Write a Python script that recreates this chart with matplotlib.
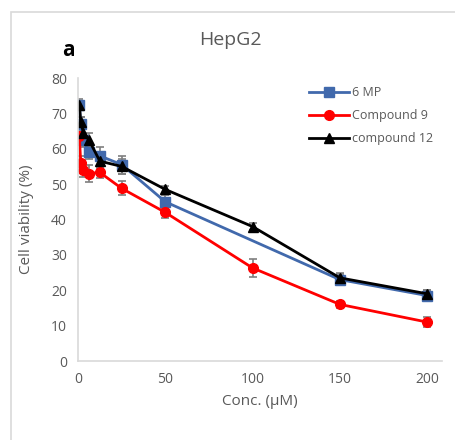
import numpy as np
import matplotlib
matplotlib.use('Agg')
import matplotlib.pyplot as plt
from matplotlib.patches import Rectangle
from matplotlib.lines import Line2D

plt.rcParams['font.family'] = ['Open Sans', 'DejaVu Sans']

conc = [0.78, 1.56, 3.125, 6.25, 12.5, 25, 50, 100, 150, 200]
conc_mp = [0.78, 1.56, 3.125, 6.25, 12.5, 25, 50, 150, 200]

mp6 = [72.5, 67, 62.5, 59, 58, 55.5, 45, 23, 18.5]
mp6_err = [1.5, 2, 2, 2, 2.5, 2.5, 2, 1.5, 1.5]
cmp9 = [63.5, 56, 54, 53, 53.3, 48.8, 42, 26.3, 16, 11]
cmp9_err = [1, 2, 2, 2.5, 1.5, 2, 1.5, 2.5, 1, 1.5]
cmp12 = [72.5, 67.5, 64.5, 62.5, 56.5, 55, 48.5, 38, 23.5, 19]
cmp12_err = [1, 1.5, 2, 2, 2, 2, 1, 1, 1.5, 1]

grey = '#595959'
fig = plt.figure(figsize=(4.55, 4.40), dpi=100)
fig.patches.append(Rectangle((11/455, -0.1), 1.2, 1.1 - 12/440, transform=fig.transFigure,
                             fill=False, edgecolor='#d9d9d9', lw=1.2))
ax = fig.add_axes([78/455, 1 - 361/440, 364/455, 283/440])

ebkw = dict(ecolor='#7f7f7f', elinewidth=1.2, capsize=3, capthick=1.2)
ax.errorbar(conc_mp, mp6, yerr=mp6_err, color='#4169ac', marker='s', ms=6.5, lw=2, **ebkw)
ax.errorbar(conc, cmp9, yerr=cmp9_err, color='#ff0000', marker='o', ms=7, lw=2, **ebkw)
ax.errorbar(conc, cmp12, yerr=cmp12_err, color='black', marker='^', ms=7, lw=2, **ebkw)

ax.set_xlim(0, 208.5)
ax.set_ylim(0, 80)
ax.set_xticks([0, 50, 100, 150, 200])
ax.set_yticks(np.arange(0, 81, 10))
ax.tick_params(length=0, labelsize=10, labelcolor=grey, pad=8)
for s in ['top', 'right']:
    ax.spines[s].set_visible(False)
for s in ['left', 'bottom']:
    ax.spines[s].set_color('#d9d9d9')
    ax.spines[s].set_linewidth(1.2)

ax.set_xlabel('Conc. (\u00b5M)', fontsize=11, color=grey, labelpad=5)
ax.set_ylabel('Cell viability (%)', fontsize=11, color=grey, labelpad=12)

fig.text(230/455, 1 - 40/440, 'HepG2', fontsize=14, color=grey, ha='center', va='center')
fig.text(68/455, 1 - 50/440, 'a', fontsize=15, fontweight='bold', ha='center', va='center')

handles = [Line2D([], [], color='#4169ac', marker='s', ms=6.5, lw=2),
           Line2D([], [], color='#ff0000', marker='o', ms=7, lw=2),
           Line2D([], [], color='black', marker='^', ms=7, lw=2)]
ax.legend(handles, ['6 MP', 'Compound 9', 'compound 12'], loc='upper left',
          bbox_to_anchor=(0.605, 1.01), frameon=False, fontsize=9, labelcolor=grey,
          handlelength=3.2, handletextpad=0.2, labelspacing=0.8)

fig.savefig('out.png', dpi=100)
